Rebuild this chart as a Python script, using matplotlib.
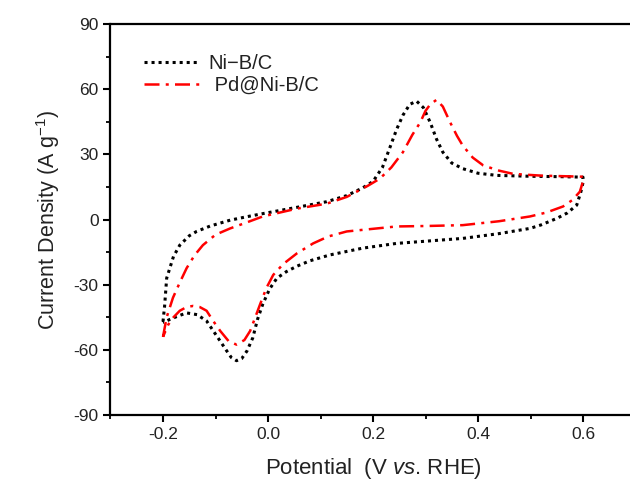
"""Cyclic voltammograms of Ni-B/C and Pd@Ni-B/C."""
import matplotlib
matplotlib.use("Agg")
import matplotlib.pyplot as plt
from matplotlib.ticker import MultipleLocator

plt.rcParams["font.family"] = ["Liberation Sans", "DejaVu Sans"]
plt.rcParams["mathtext.fontset"] = "custom"
plt.rcParams["mathtext.rm"] = "Liberation Sans"
plt.rcParams["mathtext.it"] = "Liberation Sans:italic"

# Ni-B/C: forward scan then reverse scan (potential in V, current in A/g)
nib_v = [-0.200, -0.197, -0.193, -0.180, -0.168, -0.150, -0.136, -0.110, -0.072, -0.040,
         -0.010, 0.055, 0.112, 0.150, 0.180, 0.200, 0.218, 0.232, 0.245, 0.257,
         0.270, 0.283, 0.296, 0.309, 0.321, 0.333, 0.350, 0.371, 0.400, 0.436,
         0.500, 0.560, 0.600,
         0.600, 0.596, 0.588, 0.570, 0.550, 0.520, 0.499, 0.440, 0.371, 0.300,
         0.245, 0.180, 0.118, 0.080, 0.055, 0.035, 0.017, 0.003, -0.010, -0.020,
         -0.029, -0.040, -0.050, -0.060, -0.070, -0.080, -0.091, -0.105, -0.117,
         -0.135, -0.155, -0.172, -0.187, -0.200]
nib_i = [-47.0, -40.0, -27.0, -17.0, -11.8, -7.5, -5.5, -3.0, -0.3, 1.3,
         2.7, 5.6, 8.2, 11.0, 14.5, 17.5, 24.0, 33.0, 41.5, 48.0,
         53.0, 54.5, 51.5, 44.7, 37.0, 31.0, 26.0, 23.4, 21.3, 20.3,
         19.9, 19.7, 19.5,
         17.0, 12.8, 6.6, 3.0, 0.5, -2.5, -4.1, -6.5, -8.7, -10.0,
         -11.0, -13.2, -16.3, -19.0, -21.5, -24.0, -27.0, -32.0, -39.0, -46.0,
         -54.5, -60.5, -64.0, -65.0, -63.5, -60.0, -56.0, -51.0, -46.7,
         -43.8, -43.0, -44.5, -46.0, -47.5]

# Pd@Ni-B/C: forward scan then reverse scan
pd_v = [-0.200, -0.193, -0.181, -0.168, -0.155, -0.140, -0.124, -0.100, -0.072, -0.040,
        -0.010, 0.055, 0.112, 0.150, 0.190, 0.213, 0.235, 0.257, 0.275, 0.290,
        0.300, 0.309, 0.321, 0.333, 0.347, 0.360, 0.371, 0.390, 0.410, 0.440,
        0.467, 0.520, 0.600,
        0.600, 0.594, 0.580, 0.562, 0.530, 0.499, 0.440, 0.371, 0.300, 0.245,
        0.150, 0.115, 0.086, 0.055, 0.029, 0.010, -0.003, -0.015, -0.025, -0.034,
        -0.045, -0.060, -0.075, -0.091, -0.105, -0.117, -0.130, -0.143, -0.155,
        -0.168, -0.180, -0.190, -0.200]
pd_i = [-54.0, -45.0, -36.0, -29.0, -22.4, -16.5, -11.8, -7.0, -4.1, -1.3,
        1.4, 5.0, 7.3, 10.4, 15.5, 18.8, 24.0, 31.0, 39.0, 44.7,
        50.0, 53.0, 55.1, 52.0, 44.7, 38.5, 34.0, 28.5, 24.9, 22.5,
        21.0, 20.2, 19.7,
        17.5, 12.8, 9.0, 6.0, 3.2, 1.4, -0.8, -2.6, -3.0, -3.2,
        -5.5, -7.8, -11.0, -15.6, -20.5, -25.5, -31.5, -39.0, -45.5, -51.3,
        -55.5, -57.6, -56.0, -51.3, -46.5, -42.0, -40.3, -39.8, -40.3,
        -42.0, -45.0, -48.4, -54.0]

fig = plt.figure(figsize=(6.3, 4.95), dpi=100)
ax = fig.add_axes([110.5 / 630, 80 / 495, 525 / 630, 391 / 495])

ax.plot(nib_v, nib_i, color="black", lw=2.2, ls=(0, (1, 1.3)), label="Ni\u2212B/C")
ax.plot(pd_v, pd_i, color="red", lw=1.8, ls=(0, (6, 2.5, 1.2, 2.5)), label=" Pd@Ni-B/C")

ax.set_xlim(-0.3, 0.7)
ax.set_ylim(-90, 90)
ax.xaxis.set_major_locator(MultipleLocator(0.2))
ax.xaxis.set_minor_locator(MultipleLocator(0.1))
ax.yaxis.set_major_locator(MultipleLocator(30))
ax.yaxis.set_minor_locator(MultipleLocator(15))
ax.set_xticks([-0.2, 0.0, 0.2, 0.4, 0.6])
ax.set_xticklabels(["-0.2", "0.0", "0.2", "0.4", "0.6"])
ax.set_yticks([-90, -60, -30, 0, 30, 60, 90])
ax.set_yticklabels(["-90", "-60", "-30", "0", "30", "60", "90"])

for s in ax.spines.values():
    s.set_linewidth(1.6)
ax.tick_params(which="major", direction="out", length=5, width=1.5, labelsize=12.5,
               colors="black", labelcolor="#222222")
ax.tick_params(which="minor", direction="out", length=3, width=1.3)
ax.tick_params(top=False, right=False, which="both")

ax.set_xlabel(r"Potential  (V $\mathit{vs}$. RHE)", fontsize=16, color="#222222", labelpad=10)
ax.set_ylabel(r"Current Density (A g$^{-1}$)", fontsize=15.5, color="#222222", labelpad=8)

leg = ax.legend(loc="upper left", bbox_to_anchor=(0.03, 0.97), frameon=False,
                fontsize=14.5, handlelength=2.7, handletextpad=0.5, labelspacing=0.15)
for t in leg.get_texts():
    t.set_color("#222222")

plt.savefig("out.png", dpi=100)
plt.close()
